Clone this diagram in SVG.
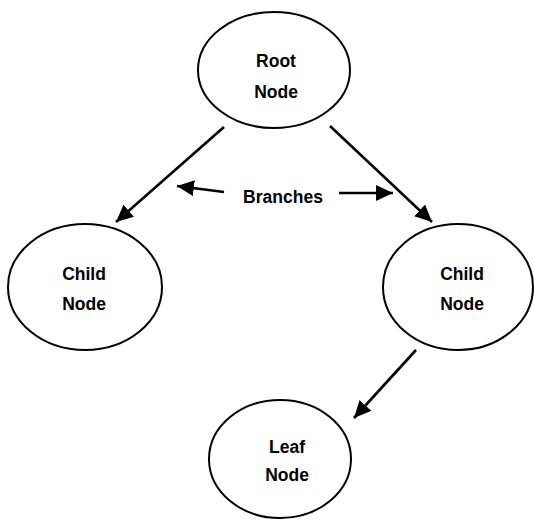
<svg xmlns="http://www.w3.org/2000/svg" width="534" height="522" viewBox="0 0 534 522">
<defs>
<style>
.node ellipse{fill:#fff;stroke:#000;stroke-width:2}
text{font-family:"Liberation Sans",Arial,sans-serif;font-weight:bold;font-size:17.5px;fill:#000;text-anchor:middle}
.conn line{stroke:#000;stroke-width:2.6;marker-end:url(#ah)}
</style>
<marker id="ah" markerUnits="userSpaceOnUse" markerWidth="20" markerHeight="16" refX="17" refY="8" orient="auto">
<path d="M0,0 L17,8 L0,16 Z" fill="#000"/>
</marker>
</defs>
<rect width="534" height="522" fill="#fff"/>
<g id="connectors" class="conn">
<line x1="224" y1="127" x2="116" y2="222"/>
<line x1="330" y1="126" x2="432" y2="222"/>
<line x1="416" y1="350" x2="354" y2="418"/>
<line x1="224" y1="192" x2="177" y2="186"/>
<line x1="339" y1="193" x2="393" y2="193"/>
</g>
<g id="root" class="node">
<ellipse cx="274" cy="70" rx="76" ry="58"/>
<text x="276" y="67">Root</text>
<text x="276" y="98">Node</text>
</g>
<g id="child-left" class="node">
<ellipse cx="85" cy="287" rx="77" ry="63"/>
<text x="84" y="280">Child</text>
<text x="84" y="310">Node</text>
</g>
<g id="child-right" class="node">
<ellipse cx="458" cy="287" rx="75" ry="63"/>
<text x="462" y="280">Child</text>
<text x="462" y="310">Node</text>
</g>
<g id="leaf" class="node">
<ellipse cx="280" cy="459" rx="71" ry="59"/>
<text x="287" y="453">Leaf</text>
<text x="287" y="481">Node</text>
</g>
<g id="branches-label">
<text x="283" y="203">Branches</text>
</g>
</svg>
